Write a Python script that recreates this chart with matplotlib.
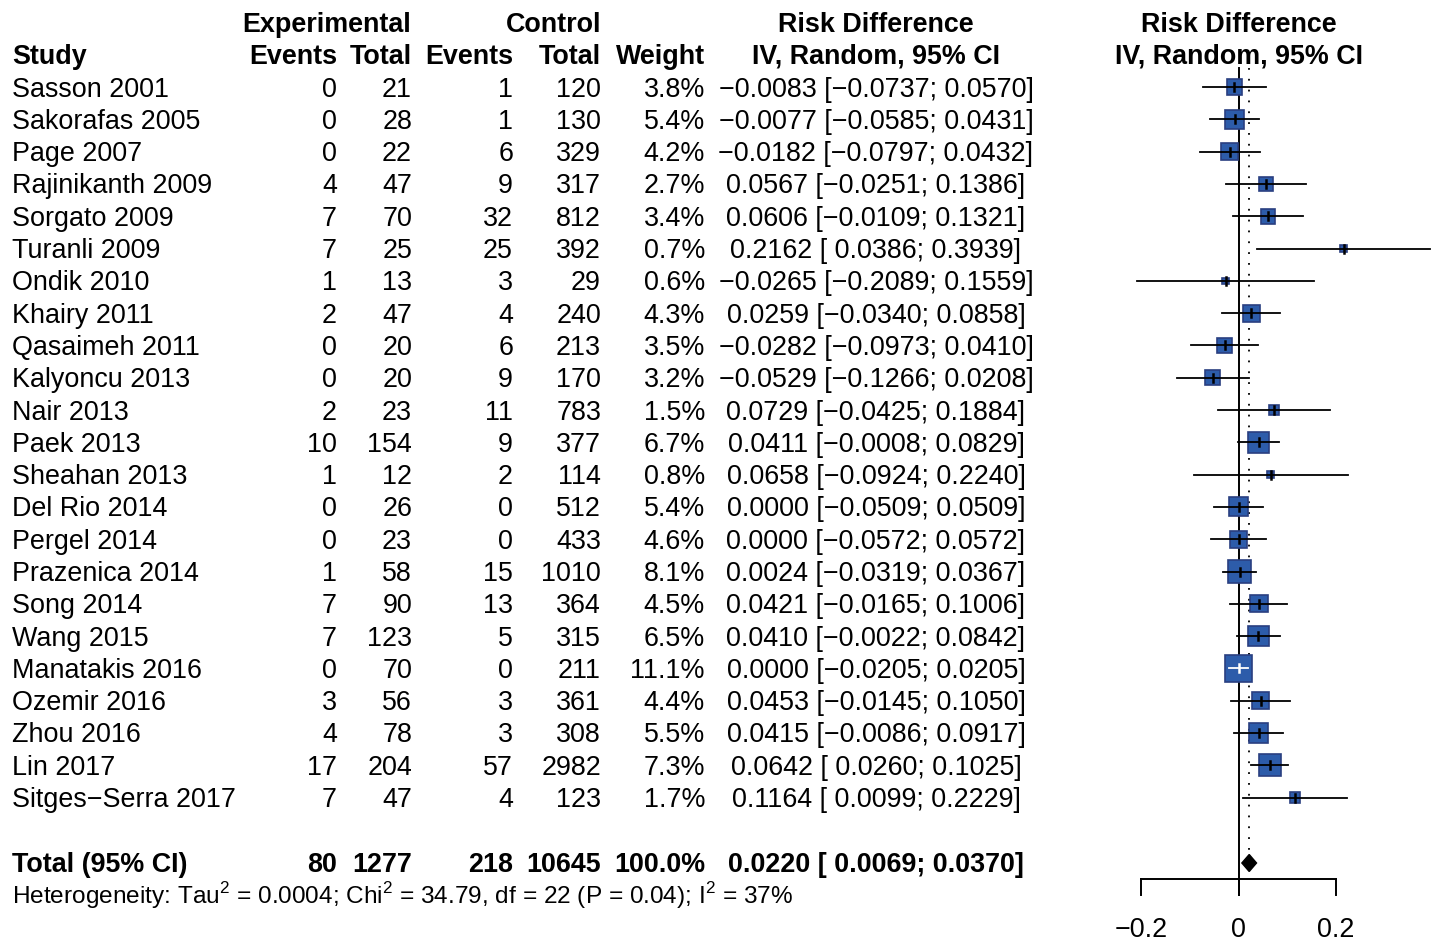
import matplotlib
matplotlib.use("Agg")
import matplotlib.pyplot as plt
from matplotlib.patches import Rectangle, Polygon

plt.rcParams['font.family'] = ['Liberation Sans', 'DejaVu Sans']
plt.rcParams['mathtext.fontset'] = 'custom'
plt.rcParams['mathtext.rm'] = 'Liberation Sans'

studies = ["Sasson 2001", "Sakorafas 2005", "Page 2007", "Rajinikanth 2009", "Sorgato 2009",
           "Turanli 2009", "Ondik 2010", "Khairy 2011", "Qasaimeh 2011", "Kalyoncu 2013",
           "Nair 2013", "Paek 2013", "Sheahan 2013", "Del Rio 2014", "Pergel 2014",
           "Prazenica 2014", "Song 2014", "Wang 2015", "Manatakis 2016", "Ozemir 2016",
           "Zhou 2016", "Lin 2017", "Sitges\u2212Serra 2017"]
exp_events = [0, 0, 0, 4, 7, 7, 1, 2, 0, 0, 2, 10, 1, 0, 0, 1, 7, 7, 0, 3, 4, 17, 7]
exp_total = [21, 28, 22, 47, 70, 25, 13, 47, 20, 20, 23, 154, 12, 26, 23, 58, 90, 123, 70, 56, 78, 204, 47]
ctrl_events = [1, 1, 6, 9, 32, 25, 3, 4, 6, 9, 11, 9, 2, 0, 0, 15, 13, 5, 0, 3, 3, 57, 4]
ctrl_total = [120, 130, 329, 317, 812, 392, 29, 240, 213, 170, 783, 377, 114, 512, 433,
              1010, 364, 315, 211, 361, 308, 2982, 123]
weight = [3.8, 5.4, 4.2, 2.7, 3.4, 0.7, 0.6, 4.3, 3.5, 3.2, 1.5, 6.7, 0.8, 5.4, 4.6,
          8.1, 4.5, 6.5, 11.1, 4.4, 5.5, 7.3, 1.7]
rd = [-0.0083, -0.0077, -0.0182, 0.0567, 0.0606, 0.2162, -0.0265, 0.0259, -0.0282, -0.0529,
      0.0729, 0.0411, 0.0658, 0.0000, 0.0000, 0.0024, 0.0421, 0.0410, 0.0000, 0.0453,
      0.0415, 0.0642, 0.1164]
lo = [-0.0737, -0.0585, -0.0797, -0.0251, -0.0109, 0.0386, -0.2089, -0.0340, -0.0973, -0.1266,
      -0.0425, -0.0008, -0.0924, -0.0509, -0.0572, -0.0319, -0.0165, -0.0022, -0.0205, -0.0145,
      -0.0086, 0.0260, 0.0099]
hi = [0.0570, 0.0431, 0.0432, 0.1386, 0.1321, 0.3939, 0.1559, 0.0858, 0.0410, 0.0208,
      0.1884, 0.0829, 0.2240, 0.0509, 0.0572, 0.0367, 0.1006, 0.0842, 0.0205, 0.1050,
      0.0917, 0.1025, 0.2229]

total_exp_events, total_exp = 80, 1277
total_ctrl_events, total_ctrl = 218, 10645
pooled, pooled_lo, pooled_hi = 0.0220, 0.0069, 0.0370
het_text = (r"Heterogeneity: Tau$^{\mathrm{2}}$ = 0.0004; Chi$^{\mathrm{2}}$ = 34.79, "
            r"df = 22 (P = 0.04); I$^{\mathrm{2}}$ = 37%")
xticks = [-0.2, 0, 0.2]
xticklabels = ["\u22120.2", "0", "0.2"]

W, H = 1437, 941
fig = plt.figure(figsize=(W / 100, H / 100), dpi=100)

# text panel in pixel coords
tx = fig.add_axes([0, 0, 1, 1])
tx.set_xlim(0, W)
tx.set_ylim(H, 0)
tx.axis('off')

FS = 19.4
row0, step = 87, 32.3
ys = [row0 + step * i for i in range(len(studies))]
y_total = 863


def fmt(v):
    s = "%.4f" % v
    return s.replace("-", "\u2212") if v < 0 else s


def fmt_ci(v):
    s = fmt(v)
    return s if v < 0 else " " + s


def put(x, y, s, ha, bold=False, fs=FS):
    tx.text(x, y + 9.5, s, ha=ha, va='baseline', fontsize=fs,
            fontweight='bold' if bold else 'normal')


# headers
put(327, 22, "Experimental", 'center', True)
put(554, 22, "Control", 'center', True)
put(876, 22, "Risk Difference", 'center', True)
put(1239, 22, "Risk Difference", 'center', True)
put(12, 54, "Study", 'left', True)
put(337, 54, "Events", 'right', True)
put(412, 54, "Total", 'right', True)
put(513, 54, "Events", 'right', True)
put(601, 54, "Total", 'right', True)
put(705, 54, "Weight", 'right', True)
put(876, 54, "IV, Random, 95% CI", 'center', True)
put(1239, 54, "IV, Random, 95% CI", 'center', True)

for i, y in enumerate(ys):
    put(12, y, studies[i], 'left')
    put(337, y, str(exp_events[i]), 'right')
    put(412, y, str(exp_total[i]), 'right')
    put(513, y, str(ctrl_events[i]), 'right')
    put(601, y, str(ctrl_total[i]), 'right')
    put(705, y, "%.1f%%" % weight[i], 'right')
    put(876, y, "%s [%s; %s]" % (fmt(rd[i]), fmt_ci(lo[i]), fmt(hi[i])), 'center')

put(12, y_total, "Total (95% CI)", 'left', True)
put(337, y_total, str(total_exp_events), 'right', True)
put(412, y_total, str(total_exp), 'right', True)
put(513, y_total, str(total_ctrl_events), 'right', True)
put(601, y_total, str(total_ctrl), 'right', True)
put(705, y_total, "100.0%", 'right', True)
put(876, y_total, "%s [%s; %s]" % (fmt(pooled), fmt_ci(pooled_lo), fmt(pooled_hi)), 'center', True)
tx.text(12, 904, het_text, ha='left', va='baseline', fontsize=17.6)

# forest panel
ppu = 487.0
x0px, x1px, zpx = 1100, 1437, 1238.5
fx = fig.add_axes([x0px / W, 0, (x1px - x0px) / W, 1])
fx.set_xlim((x0px - zpx) / ppu, (x1px - zpx) / ppu)
fx.set_ylim(H, 0)
fx.axis('off')

fx.plot([0, 0], [68, 895], color='black', lw=1.4, zorder=1)
fx.plot([pooled, pooled], [68, 852], color='black', lw=1.3, ls=(0, (1, 5)), zorder=1)

blue = '#2d5caa'
edge = '#2a3f80'
maxw = max(weight)
for i, y in enumerate(ys):
    side = 27 * (weight[i] / maxw) ** 0.5
    half = side / 2 / ppu
    inside = lo[i] >= rd[i] - half and hi[i] <= rd[i] + half
    fx.add_patch(Rectangle((rd[i] - half, y - side / 2), 2 * half, side,
                           facecolor=blue, edgecolor=edge, lw=1.2, zorder=2))
    c = 'white' if inside else 'black'
    fx.plot([lo[i], hi[i]], [y, y], color=c, lw=1.3, zorder=3)
    fx.plot([rd[i], rd[i]], [y - 4, y + 4], color=c, lw=1.8, zorder=3)

fx.add_patch(Polygon([(pooled_lo, y_total), (pooled, y_total - 8.5),
                      (pooled_hi, y_total), (pooled, y_total + 8.5)],
                     closed=True, facecolor='black', edgecolor='black', zorder=3))

# x axis
fx.plot([xticks[0], xticks[-1]], [879, 879], color='black', lw=1.4)
for t, lab in zip(xticks, xticklabels):
    fx.plot([t, t], [879, 895], color='black', lw=1.4)
    fx.text(t, 937, lab, ha='center', va='baseline', fontsize=FS)

fig.savefig("out.png", dpi=100)
